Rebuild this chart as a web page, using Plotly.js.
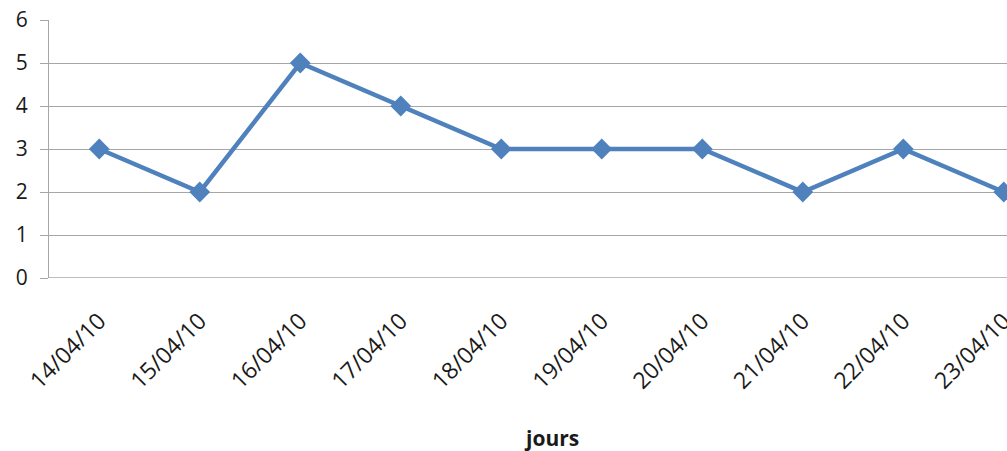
<!DOCTYPE html>
<html>
<head>
<meta charset="utf-8">
<script src="https://cdn.plot.ly/plotly-3.0.1.min.js"></script>
<style>html,body{margin:0;padding:0;background:#fff;}#chart{width:1007px;height:451px;}</style>
</head>
<body>
<div id="chart"></div>
<script>
const categories = ["14/04/10","15/04/10","16/04/10","17/04/10","18/04/10","19/04/10","20/04/10","21/04/10","22/04/10","23/04/10"];
const values = [3, 2, 5, 4, 3, 3, 3, 2, 3, 2];
const yTicks = [0, 1, 2, 3, 4, 5, 6];
const xTitle = "jours";

const idx = categories.map((c, i) => i);

const trace = {
  x: idx,
  y: values,
  type: "scatter",
  mode: "lines+markers",
  line: {color: "#4F81BD", width: 4.5},
  marker: {symbol: "diamond", size: 16, color: "#4F81BD"},
  cliponaxis: false,
  hoverinfo: "skip"
};

const layout = {
  width: 1007,
  height: 451,
  margin: {l: 49, r: 0, t: 20, b: 173},
  paper_bgcolor: "#fff",
  plot_bgcolor: "#fff",
  showlegend: false,
  font: {family: "Open Sans, Liberation Sans, sans-serif", color: "#000", size: 21},
  xaxis: {
    range: [-0.5, 9.032],
    tickmode: "array",
    tickvals: idx,
    ticktext: categories,
    tickangle: -45,
    showgrid: false,
    zeroline: false,
    showline: false,
    ticks: "",
    tickfont: {size: 23, color: "#1a1a1a"},
    ticklabelstandoff: 24,
    ticklabeloverflow: "allow",
    fixedrange: true
  },
  yaxis: {
    range: [0, 6],
    tickmode: "array",
    tickvals: yTicks,
    showgrid: true,
    gridcolor: "#A6A6A6",
    gridwidth: 1,
    zeroline: false,
    showline: true,
    linecolor: "#A6A6A6",
    linewidth: 1,
    ticks: "outside",
    ticklen: 8,
    tickcolor: "#A6A6A6",
    tickfont: {size: 21, color: "#1a1a1a"},
    ticklabelstandoff: 8,
    fixedrange: true
  },
  shapes: [
    {type: "line", xref: "paper", yref: "y", x0: 0, x1: 1, y0: 0, y1: 0, line: {color: "#A6A6A6", width: 1.5}, layer: "below"}
  ],
  annotations: [
    {text: "<b>" + xTitle + "</b>", xref: "x", yref: "paper", x: 4.5, y: 0, yshift: -160, showarrow: false, font: {size: 21, color: "#1a1a1a"}, xanchor: "center", yanchor: "middle"}
  ]
};

Plotly.newPlot("chart", [trace], layout, {displayModeBar: false, staticPlot: true});
</script>
</body>
</html>
